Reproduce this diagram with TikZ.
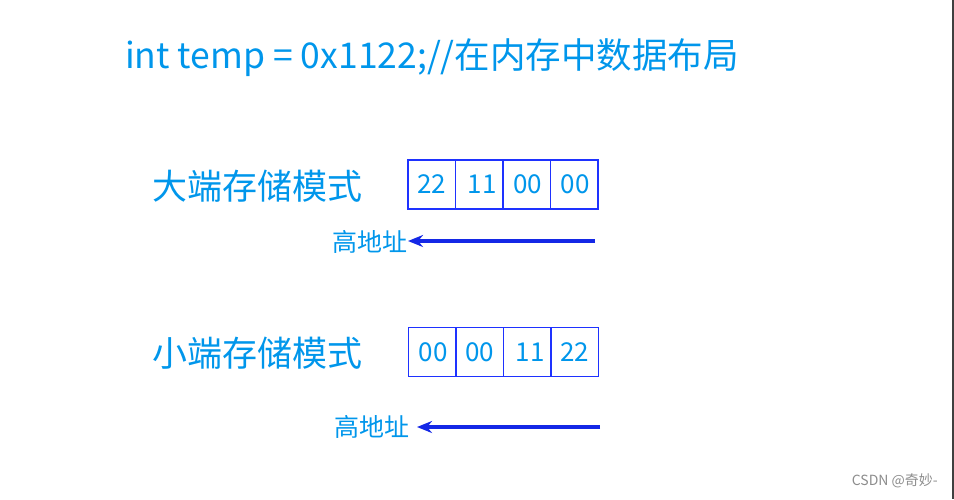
\documentclass[tikz,border=0pt]{standalone}
\usepackage{fontspec}
\setmainfont{Noto Sans CJK SC}
\usepackage{tikz}
\usetikzlibrary{chains,positioning,arrows.meta}
\definecolor{txtblue}{RGB}{0,150,235}
\definecolor{boxblue}{RGB}{30,50,255}
\definecolor{arrowblue}{RGB}{20,40,230}

\begin{document}
\begin{tikzpicture}
  [
    x=1pt, y=-1pt,
    start chain = big going right,
    start chain = small going right,
    node distance = 0pt,
    cell/.style =
      {draw=boxblue, line width=1.5pt, minimum width=47.5pt, minimum height=49pt,
       outer sep=0pt, inner sep=0pt, text=txtblue, font=\fontsize{26}{26}\selectfont},
    lbl/.style = {text=txtblue, inner sep=0pt},
    addr/.style = {draw=arrowblue, line width=4pt, -{Stealth[length=15pt,width=12pt]}}
  ]
  \useasboundingbox (0,0) rectangle (954,499);
  \draw[black!75, line width=1.2pt] (953,0) -- (953,499);

  \node [lbl, anchor=base west, font=\fontsize{35.5}{36}\selectfont] at (125,68) (title)
    {int temp = 0x1122;//在内存中数据布局};

  % big endian
  \node [lbl, anchor=west, font=\fontsize{35}{35}\selectfont] at (152,186) (bigname) {大端存储模式};
  \node [cell, on chain=big] at (431.75,184.5) (big1) {22};
  \node [cell, on chain=big] (big2) {\hspace{6pt}11};
  \node [cell, on chain=big] (big3) {\hspace{2pt}00};
  \node [cell, on chain=big] (big4) {\hspace{2pt}00};

  \node [lbl, anchor=east, font=\fontsize{25}{25}\selectfont] at (408,242) (bighigh) {高地址};
  \coordinate (bigtail) at (595,241);
  \draw[addr] (bigtail) -- (bigtail -| bighigh.east);

  % little endian
  \node [lbl, anchor=west, font=\fontsize{35}{35}\selectfont] at (152,353) (smallname) {小端存储模式};
  \node [cell, on chain=small] at (432.25,352) (small1) {\hspace{2pt}00};
  \node [cell, on chain=small] (small2) {00};
  \node [cell, on chain=small] (small3) {\hspace{6pt}11};
  \node [cell, on chain=small] (small4) {22};

  \node [lbl, anchor=east, font=\fontsize{25}{25}\selectfont] at (410,427) (smallhigh) {高地址};
  \coordinate (smalltail) at (600,427);
  \draw[addr, shorten >=7pt] (smalltail) -- (smalltail -| smallhigh.east);

  \node [anchor=east, inner sep=0pt, text=black!45, font=\fontsize{14}{14}\selectfont]
    at (938,481) (mark) {CSDN @奇妙-};
\end{tikzpicture}
\end{document}
